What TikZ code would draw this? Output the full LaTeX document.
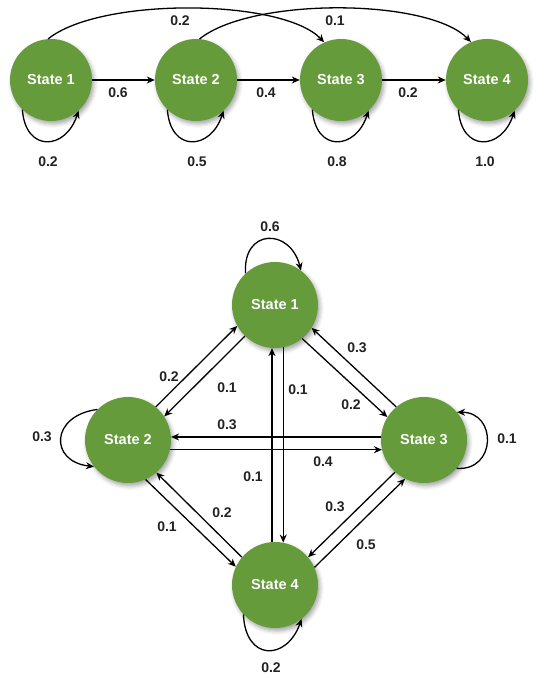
\documentclass[tikz,border=0pt]{standalone}
\usepackage{fontspec}
\setmainfont{Liberation Sans}
\usetikzlibrary{arrows.meta,shadows.blur}
\definecolor{stgreen}{RGB}{101,155,58}
\definecolor{lbl}{RGB}{34,34,34}
\begin{document}
\begin{tikzpicture}[x=1pt,y=1pt,
  st/.style={circle, fill=stgreen, minimum size=82pt, inner sep=0pt, text=white,
    font=\bfseries\fontsize{14.5}{16}\selectfont,
    blur shadow={shadow xshift=2pt, shadow yshift=-3pt, shadow blur radius=4pt, shadow opacity=35}},
  stb/.style={st, minimum size=86pt},
  arr/.style={-{Stealth[length=8pt,width=7pt]}, line width=1.3pt},
  lb/.style={font=\bfseries\fontsize{14}{16}\selectfont, text=lbl, inner sep=1pt}]
\useasboundingbox (0,0) rectangle (545,678);

% ---------- top chain ----------
\node[st] (a1) at (51,598) {State 1};
\node[st] (a2) at (196,598) {State 2};
\node[st] (a3) at (341,598) {State 3};
\node[st] (a4) at (487,598) {State 4};

\draw[arr] (a1) -- (a2);
\draw[arr] (a2) -- (a3);
\draw[arr] (a3) -- (a4);

\draw[arr] (a1.226) .. controls +(3,-43) and +(-13,-40) .. (a1.-48);
\draw[arr] (a2.226) .. controls +(3,-43) and +(-13,-40) .. (a2.-48);
\draw[arr] (a3.226) .. controls +(3,-43) and +(-13,-40) .. (a3.-48);
\draw[arr] (a4.226) .. controls +(3,-43) and +(-13,-40) .. (a4.-48);

\draw[arr] (a1.94) .. controls +(52,42) and +(-42,44) .. (a3.114);
\draw[arr] (a2.85) .. controls +(52,42) and +(-42,44) .. (a4.113);

\node[lb] (t12) at (118,585) {0.6};
\node[lb] (t23) at (266,585) {0.4};
\node[lb] (t34) at (408,585) {0.2};
\node[lb] (t11) at (48,516) {0.2};
\node[lb] (t22) at (197,516) {0.5};
\node[lb] (t33) at (337,516) {0.8};
\node[lb] (t44) at (485,516) {1.0};
\node[lb] (t13) at (180,657) {0.2};
\node[lb] (t24) at (335,657) {0.1};

% ---------- bottom square ----------
\node[stb] (b1) at (275,373) {State 1};
\node[stb] (b2) at (128,238) {State 2};
\node[stb] (b3) at (424,238) {State 3};
\node[stb] (b4) at (275,93) {State 4};

\draw[arr] (b2.50) -- (b1.209);
\draw[arr] (b1.226) -- (b2.33);
\draw[arr] (b3.130) -- (b1.328);
\draw[arr] (b1.309) -- (b3.148);
\draw[arr] (b2.-66) -- (b4.155);
\draw[arr] (b4.140) -- (b2.-49);
\draw[arr] (b3.228) -- (b4.40);
\draw[arr] (b4.24) -- (b3.244);
\draw[arr] (b3.176) -- (b2.4);
\draw[arr] (b2.-13) -- (b3.193);
\draw[arr] (b4.94) -- (b1.266);
\draw[arr] (b1.281) -- (b4.79);

\draw[arr] (b1.133) .. controls +(-3,45) and +(-11,43) .. (b1.53);
\draw[arr] (b2.135) .. controls +(-47,-6) and +(-45,5) .. (b2.218);
\draw[arr] (b3.-41) .. controls +(40,-3) and +(40,0) .. (b3.40);
\draw[arr] (b4.223) .. controls +(2,-47) and +(-15,-42) .. (b4.-52);

\node[lb] (u11) at (270,451) {0.6};
\node[lb] (u21) at (169,301) {0.2};
\node[lb] (u12) at (227,290) {0.1};
\node[lb] (u31) at (357,330) {0.3};
\node[lb] (u13) at (351,273) {0.2};
\node[lb] (u14) at (298,288) {0.1};
\node[lb] (u22) at (42,241) {0.3};
\node[lb] (u32) at (227,253) {0.3};
\node[lb] (u33) at (507,239) {0.1};
\node[lb] (u23) at (323,216) {0.4};
\node[lb] (u41) at (253,201) {0.1};
\node[lb] (u42) at (222,165) {0.2};
\node[lb] (u24) at (167,151) {0.1};
\node[lb] (u34) at (335,171) {0.3};
\node[lb] (u43) at (366,133) {0.5};
\node[lb] (u44) at (271,10) {0.2};
\end{tikzpicture}
\end{document}
